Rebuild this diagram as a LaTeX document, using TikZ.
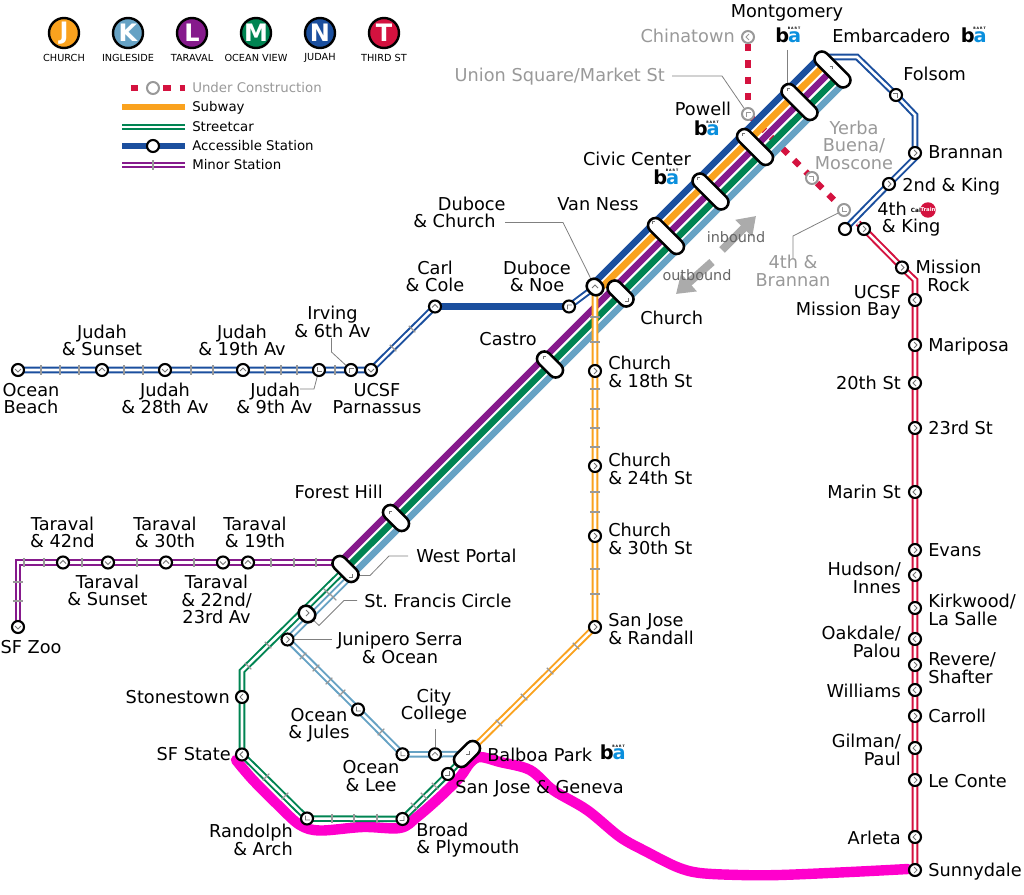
\documentclass[tikz,border=0pt]{standalone}
\usepackage{fontspec}
\setmainfont{DejaVu Sans}
\usetikzlibrary{arrows.meta}
\definecolor{cN}{HTML}{1B4F9E}
\definecolor{cJ}{HTML}{FAA21E}
\definecolor{cL}{HTML}{861A8C}
\definecolor{cM}{HTML}{008452}
\definecolor{cK}{HTML}{66A2C4}
\definecolor{cT}{HTML}{D4123F}
\definecolor{cMag}{HTML}{FF00CC}
\definecolor{cGr}{HTML}{999999}
\definecolor{cBart}{HTML}{0A8FDD}
\pgfdeclarelayer{lines}
\pgfsetlayers{lines,main}
\tikzset{
 stn/.style={circle,draw=black,fill=white,line width=1.6pt,inner sep=0pt,minimum size=9pt},
 gstn/.style={circle,draw=cGr,fill=white,line width=1.5pt,inner sep=0pt,minimum size=9pt},
 capsule/.style={rectangle,draw=black,fill=white,line width=1.9pt,inner sep=0pt,minimum height=11pt,rounded corners=5.4pt},
 chev/.style={draw=black!55,line width=.55pt},
 gchev/.style={draw=cGr,line width=.6pt},
 tickm/.style={draw=black!40,line width=.85pt},
 stripe/.style={line width=5pt,line cap=butt},
 dbl/.style={draw=#1,double=white,line width=1.5pt,double distance=1.9pt,line join=miter},
 leader/.style={draw=black!50,line width=.6pt},
 lab/.style={font=\fontsize{13.3}{13.1}\selectfont,inner sep=0pt,text height=11pt,text depth=2pt},
 mlab/.style={font=\fontsize{13.3}{13.1}\selectfont,inner sep=0pt},
 badge/.style={circle,draw=black,line width=1.8pt,inner sep=0pt,minimum size=22.5pt,text=white,font=\fontsize{18}{18}\bfseries\selectfont},
 captext/.style={font=\fontsize{7.3}{8}\selectfont,inner sep=0pt,text=black},
 leglab/.style={font=\fontsize{10}{11}\selectfont,inner sep=0pt,anchor=west,text height=9pt,text depth=1.5pt},
 dirlab/.style={font=\fontsize{10.8}{11}\selectfont,inner sep=0pt,text=black!60},
 ucline/.style={draw=cT,line width=4.6pt,dash pattern=on 5.6pt off 6.6pt},
 dirar/.style={draw=black!33,line width=6pt,-{Triangle[length=13pt,width=17pt]}},
 logo/.style={inner sep=0pt,anchor=south west,font=\fontsize{14.5}{15}\bfseries\selectfont},
}
\newcommand\stnode[4]{\node[stn](#1) at (#2,#3) {};\draw[chev,shift={(#2,#3)},rotate=#4] (-1,-3)--(2,0)--(-1,3);}
\newcommand\gstnode[4]{\node[gstn](#1) at (#2,#3) {};\draw[gchev,shift={(#2,#3)},rotate=#4] (-1,-3)--(2,0)--(-1,3);}
\newcommand\capnode[5]{\node[capsule,rotate=#4,minimum width=#5pt](#1) at (#2,#3) {};}
\newcommand\tk[3]{\draw[tickm,shift={(#1,#2)},rotate=#3] (0,-4.6)--(0,4.6);}
\newcommand\bartlogo[3]{%
 \node[logo](#1b) at (#2-12.5,#3+7.5) {b};
 \node[logo,text=cBart](#1a) at (#2+.3,#3+7.5) {a};
 \node[inner sep=0pt,font=\fontsize{2.4}{2.6}\bfseries\selectfont](#1t) at (#2+6.5,#3-6.8) {B\hspace{.7pt}A\hspace{.7pt}R\hspace{.7pt}T};}
\begin{document}
\begin{tikzpicture}[x=.75pt,y=-.75pt]
\useasboundingbox (0,0) rectangle (1024,895);
% ---- route badges
\node[badge,fill=cJ](bJ) at (64,33) {J};
\node[badge,fill=cK](bK) at (128,33) {K};
\node[badge,fill=cL](bL) at (192,33) {L};
\node[badge,fill=cM](bM) at (256,33) {M};
\node[badge,fill=cN](bN) at (320,33) {N};
\node[badge,fill=cT](bT) at (384,33) {T};
\node[captext](cJ1) at (64,58) {CHURCH};
\node[captext](cK1) at (128,58) {INGLESIDE};
\node[captext](cL1) at (192,58) {TARAVAL};
\node[captext](cM1) at (256,58) {OCEAN VIEW};
\node[captext](cN1) at (320,58) {JUDAH};
\node[captext](cT1) at (384,58) {THIRD ST};
% ---- legend
\coordinate (l1a) at (122,88); \coordinate (l1b) at (185,88);
\coordinate (l2a) at (122,107); \coordinate (l2b) at (185,107);
\coordinate (l3a) at (122,127); \coordinate (l3b) at (185,127);
\coordinate (l4a) at (122,146); \coordinate (l4b) at (185,146);
\coordinate (l5a) at (122,165); \coordinate (l5b) at (185,165);
\node[gstn](lgU) at (153,88) {};
\node[stn](lgA) at (153,146) {};
\node[leglab,text=cGr](t1) at (192,88) {Under Construction};
\node[leglab](t2) at (192,107) {Subway};
\node[leglab](t3) at (192,127) {Streetcar};
\node[leglab](t4) at (192,146) {Accessible Station};
\node[leglab](t5) at (192,165) {Minor Station};
% ---- stations: N
\stnode{ob}{18}{370}{270}
\stnode{js}{102}{370}{90}
\stnode{j28}{165}{370}{270}
\stnode{j19}{243}{370}{90}
\stnode{j9}{319}{370}{225}
\stnode{irv}{351}{370}{135}
\stnode{ucsfp}{371}{370}{270}
\stnode{carl}{435}{306.5}{90}
\stnode{noe}{569}{306.5}{135}
\stnode{fol}{896}{95}{45}
\stnode{bran}{915}{153}{0}
\stnode{snd}{889}{184}{0}
\node[stn](ke) at (845,229) {};
% T
\stnode{kt}{864}{229}{0}
\stnode{mr}{902}{267.5}{0}
\stnode{mb}{915}{300}{180}
\stnode{mar}{915}{345}{0}
\stnode{st20}{915}{383}{180}
\stnode{st23}{915}{428}{0}
\stnode{mrn}{915}{492}{180}
\stnode{eva}{915}{550}{0}
\stnode{hud}{915}{575}{180}
\stnode{kir}{915}{608}{0}
\stnode{oak}{915}{639}{180}
\stnode{rev}{915}{665}{0}
\stnode{wil}{915}{690}{180}
\stnode{car}{915}{716}{0}
\stnode{gil}{915}{748}{180}
\stnode{lec}{915}{780}{0}
\stnode{arl}{915}{837}{180}
\stnode{sun}{915}{870}{0}
% J
\stnode{c18}{595}{371}{0}
\stnode{c24}{595}{466}{0}
\stnode{c30}{595}{536}{0}
\stnode{sjr}{595}{627}{0}
% L
\stnode{t42}{63}{562.5}{90}
\stnode{tsu}{108}{562.5}{270}
\stnode{t30}{166}{562.5}{90}
\stnode{t22}{223}{562.5}{270}
\stnode{t19}{248}{562.5}{90}
\stnode{zoo}{18}{627}{270}
% K, M
\stnode{jun}{287.5}{639.5}{0}
\stnode{jul}{358}{709.5}{225}
\stnode{lee}{402.5}{754.3}{225}
\stnode{cc}{435}{754.3}{90}
\stnode{sto}{242}{697}{180}
\stnode{sfs}{242}{754.5}{180}
\stnode{ran}{307}{818.5}{225}
\stnode{bro}{402.5}{819}{315}
\stnode{sjg}{448}{774}{315}
% grey stations
\gstnode{chi}{748}{37}{180}
\gstnode{uni}{748}{114}{135}
\gstnode{ybm}{812}{178}{45}
\gstnode{fb}{844}{210}{225}
% capsules
\capnode{emb}{832.5}{69.5}{-45}{33.5}
\capnode{mon}{799.5}{102}{-45}{33.5}
\capnode{pow}{755}{147}{-45}{33.5}
\capnode{civ}{710.5}{191.5}{-45}{33.5}
\capnode{van}{666}{236}{-45}{33.5}
\capnode{dch}{595}{287}{-45}{13}
\capnode{chu}{620.5}{293.5}{-45}{23}
\capnode{cas}{550}{364.5}{-45}{23}
\capnode{for}{396}{518}{-45}{23}
\capnode{wpo}{345.5}{569}{-45}{23}
\capnode{fra}{307}{614}{-45}{13}
\capnode{bal}{467}{754}{45}{23}
\draw[chev] (829.5,66.5)--(832.5,66.5)--(832.5,69.5);
\draw[chev] (787,91)--(787,88)--(790,88);
\draw[chev] (742,136)--(742,133)--(745,133);
\draw[chev] (697,180)--(697,177)--(700,177);
\draw[chev] (652,224)--(652,221)--(655,221);
\draw[chev] (592,288)--(595,285)--(598,288);
\draw[chev] (628,298)--(628,301)--(625,301);
\draw[chev] (543,359)--(543,356)--(546,356);
\draw[chev] (389,514)--(389,511)--(392,511);
\draw[chev] (352,574)--(352,577)--(349,577);
\draw[chev] (306,610)--(309,613)--(306,616);
\draw[chev] (469,751)--(469,754)--(466,754);
% labels
\node[lab](lMont) at (787,12) {Montgomery};
\node[lab,anchor=east,text=cGr](lChi) at (735,37) {Chinatown};
\node[lab,anchor=west](lEmb) at (832,37) {Embarcadero};
\node[lab,anchor=east,text=cGr](lUni) at (665,76) {Union Square/Market St};
\node[lab,anchor=west](lFol) at (903,75) {Folsom};
\node[lab](lPow) at (703,110) {Powell};
\node[mlab,align=center,text=cGr](lYB) at (854,145) {Yerba\\Buena/\\Moscone};
\node[lab,anchor=west](lBran) at (928,153) {Brannan};
\node[lab,anchor=west](l2nd) at (902,185) {2nd \& King};
\node[mlab,align=left,anchor=west](l4k) at (877,219) {4th\\\hspace{3.5pt}\& King};
\node[mlab,align=center,text=cGr](l4br) at (793,271) {4th \&\\Brannan};
\node[mlab,align=center](lMR) at (948.5,276) {Mission\\Rock};
\node[mlab,align=right,anchor=east](lMB) at (901,302) {UCSF\\Mission Bay};
\node[lab,anchor=west](lMar) at (928,345) {Mariposa};
\node[lab,anchor=east](l20) at (901,383) {20th St};
\node[lab,anchor=west](l23) at (928,428) {23rd St};
\node[lab,anchor=east](lMrn) at (901,492) {Marin St};
\node[lab,anchor=west](lEv) at (928,550) {Evans};
\node[mlab,align=right,anchor=east](lHud) at (901,578) {Hudson/\\Innes};
\node[mlab,align=left,anchor=west](lKir) at (928,610) {Kirkwood/\\La Salle};
\node[mlab,align=right,anchor=east](lOak) at (901,642) {Oakdale/\\Palou};
\node[mlab,align=left,anchor=west](lRev) at (928,668) {Revere/\\Shafter};
\node[lab,anchor=east](lWil) at (901,691) {Williams};
\node[lab,anchor=west](lCarr) at (928,716) {Carroll};
\node[mlab,align=right,anchor=east](lGil) at (901,750) {Gilman/\\Paul};
\node[lab,anchor=west](lLec) at (928,781) {Le Conte};
\node[lab,anchor=east](lArl) at (901,838) {Arleta};
\node[lab,anchor=west](lSun) at (928,870) {Sunnydale};
\node[lab,anchor=west](lBal) at (487,755) {Balboa Park};
\node[lab,anchor=west](lSJG) at (455,787) {San Jose \& Geneva};
\node[mlab,align=left,anchor=west](lBro) at (416,840) {Broad\\\& Plymouth};
\node[mlab,align=right,anchor=east](lRan) at (293,840) {Randolph\\\& Arch};
\node[mlab,align=center](lLee) at (371,776) {Ocean\\\& Lee};
\node[mlab,align=center](lCC) at (434,706) {City\\College};
\node[mlab,align=center](lJul) at (319,725) {Ocean\\\& Jules};
\node[lab,anchor=east](lSto) at (230,697) {Stonestown};
\node[lab,anchor=east](lSFS) at (231,754) {SF State};
\node[mlab,align=center](lJun) at (400,648) {Junipero Serra\\\& Ocean};
\node[lab,anchor=west](lFra) at (364,601) {St.\ Francis Circle};
\node[lab,anchor=west](lWP) at (416,556) {West Portal};
\node[lab,anchor=east](lFor) at (383,492) {Forest Hill};
\node[lab](lCas) at (508,339) {Castro};
\node[lab,anchor=west](lChu) at (640,318) {Church};
\node[mlab,align=left,anchor=west](l18) at (608,372) {Church\\\& 18th St};
\node[mlab,align=left,anchor=west](l24) at (608,469) {Church\\\& 24th St};
\node[mlab,align=left,anchor=west](l30) at (608,539) {Church\\\& 30th St};
\node[mlab,align=left,anchor=west](lSJR) at (608,629) {San Jose\\\& Randall};
\node[lab](lVN) at (598,204) {Van Ness};
\node[mlab,align=left,anchor=west](lDC) at (413,212.5) {\hspace{18.5pt}Duboce\\\& Church};
\node[mlab,align=center](lDN) at (537,276.5) {Duboce\\\& Noe};
\node[mlab,align=center](lCarl) at (435,276.5) {Carl\\\& Cole};
\node[lab](lCiv) at (637,160) {Civic Center};
\node[mlab,align=center](lIrv) at (332.5,322) {Irving\\\& 6th Av};
\node[mlab,align=center](lJS) at (102,340.5) {Judah\\\& Sunset};
\node[mlab,align=center](lJ19) at (242,340.5) {Judah\\\& 19th Av};
\node[mlab,align=center](lJ28) at (165,398.5) {Judah\\\& 28th Av};
\node[mlab,align=left,anchor=west](lJ9) at (236,398.5) {\hspace{10.5pt}Judah\\\& 9th Av};
\node[mlab,align=center](lUP) at (377,398.5) {UCSF\\Parnassus};
\node[mlab,align=center](lOB) at (31,398.5) {Ocean\\Beach};
\node[mlab,align=center](lT42) at (62.5,532.5) {Taraval\\\& 42nd};
\node[mlab,align=center](lT30) at (165,532.5) {Taraval\\\& 30th};
\node[mlab,align=center](lT19) at (255,532.5) {Taraval\\\& 19th};
\node[mlab,align=center](lTS) at (107.5,590.5) {Taraval\\\& Sunset};
\node[mlab,align=center](lT22) at (216.5,599.5) {Taraval\\\& 22nd/\\23rd Av};
\node[lab](lZoo) at (31,647) {SF Zoo};
\node[dirlab](lin) at (736,237) {inbound};
\node[dirlab](lout) at (697,275) {outbound};
% logos
\bartlogo{bMon}{787.5}{35.5}
\bartlogo{bEmb}{973}{35.5}
\bartlogo{bPow}{706}{129}
\bartlogo{bCiv}{665.5}{177.5}
\bartlogo{bBal}{612}{753}
\node[inner sep=0pt,font=\fontsize{4.3}{5}\bfseries\selectfont](calt) at (916,210) {Cal};
\node[circle,fill=cT,inner sep=0pt,minimum size=10pt,text=white,font=\fontsize{4}{5}\bfseries\selectfont](train) at (928,210) {Train};
% coordinates of the trunk and of bends
\coordinate (Na) at (595,282); \coordinate (Nb) at (819.5,57.5);
\coordinate (Ja) at (601,288); \coordinate (Jb) at (826,63.5);
\coordinate (La) at (337,565); \coordinate (Lb) at (832,70);
\coordinate (Ma) at (345,569.5); \coordinate (Mb) at (838.5,76.5);
\coordinate (Ka) at (356,571); \coordinate (Kb) at (845,82);
\coordinate (n1) at (826,57); \coordinate (n2) at (857,57); \coordinate (n3) at (915,115); \coordinate (n4) at (915,158);
\coordinate (t0) at (858,223); \coordinate (t1c) at (915,280);
\coordinate (lzc) at (18,562.5); \coordinate (lw) at (340,562.5);
\coordinate (mb1) at (242,671);
\coordinate (ld1) at (505,222.5); \coordinate (ld2) at (563,222.5);
\coordinate (lu1) at (672,76); \coordinate (lu2) at (722,76);
\coordinate (lm1) at (787,50);\coordinate (lm2) at (787,85);
\coordinate (li1) at (331.5,338);\coordinate (li2) at (331.5,352);
\coordinate (l91) at (300,389);\coordinate (l92) at (314,389);
\coordinate (lw1) at (408,556);\coordinate (lw2) at (389,556);\coordinate (lw3) at (370,575.5);\coordinate (lw4) at (356,575.5);
\coordinate (lf1) at (357,600.5);\coordinate (lf2) at (344,600.5);\coordinate (lf3) at (319,625.5);
\coordinate (lj1) at (331.5,639.5);
\coordinate (lc1) at (435,729);
\coordinate (lb1) at (793,258);\coordinate (lb2) at (793,236);
\coordinate (ia) at (722,250);\coordinate (ib) at (756,216);
\coordinate (oa) at (712,262);\coordinate (ob2) at (676,294);
\begin{pgfonlayer}{lines}
% magenta stroke
\draw[cMag,line width=7.8pt,line cap=round,line join=round] plot[smooth,tension=.55] coordinates {(236,760)(253,780)(280,807)(300,825)(320,830.5)(363,827)(400,828)(417,817)(440,797)(460,777)(470,763)(480,757)(500,762)(530,770)(553,790)(587,810)(620,837)(647,852)(677,867)(700,873)(740,875)(780,875)(850,872)(908,869)};
% under construction
\draw[ucline] (chi)--(uni.center);
\draw[ucline] (uni.center)--(fb);
% trunk stripes
\draw[stripe,cN] (Na)--(Nb);
\draw[stripe,cJ] (Ja)--(Jb);
\draw[stripe,cL] (La)--(Lb);
\draw[stripe,cM] (Ma)--(Mb);
\draw[stripe,cK] (Ka)--(Kb);
% thick N
\draw[stripe,cN] (carl.center)--(noe.center);
% thin lines
\draw[dbl=cN] (ob.center)--(js.center)--(j28.center)--(j19.center)--(j9.center)--(irv.center)--(ucsfp.center)--(carl.center);
\draw[dbl=cN] (noe.center)--(dch.center);
\draw[dbl=cN] (n1)--(n2)--(fol.center)--(n3)--(bran.center)--(n4)--(snd.center)--(ke.center);
\draw[dbl=cT] (t0)--(kt.center)--(mr.center)--(t1c)--(mb.center)--(sun.center);
\draw[dbl=cJ] (dch.center)--(c18.center)--(c24.center)--(c30.center)--(sjr.center)--(bal.center);
\draw[dbl=cL] (lw)--(t19.center)--(t22.center)--(t30.center)--(tsu.center)--(t42.center)--(lzc)--(zoo.center);
\draw[dbl=cM] (Ma)--(mb1)--(sto.center)--(sfs.center)--(ran.center)--(bro.center)--(sjg.center)--(bal.center);
\draw[dbl=cK] (Ka)--(jun.center)--(jul.center)--(lee.center)--(cc.center)--(bal.center);
% minor stations
\foreach \x in {41,60,79,124,143,191,213,265,281,297,335} {\tk{\x}{370}{0}}
\tk{393}{348}{45}
\tk{412}{329}{45}
\foreach \x in {24,44,82,137,194,271,294,316} {\tk{\x}{562.5}{0}}
\tk{18}{582}{90}
\tk{18}{601}{90}
\foreach \y in {317,342,389,409,428,447,492,512,569,594} {\tk{595}{\y}{90}}
\tk{576}{646}{45}\tk{550}{671}{45}\tk{524}{697}{45}\tk{499}{723}{45}
\tk{268}{645}{45}\tk{248}{666}{45}
\tk{266}{777}{-45}\tk{285}{796}{-45}
\tk{332}{818.5}{0}\tk{354}{818.5}{0}\tk{377}{818.5}{0}
\tk{414}{806}{45}\tk{424}{796}{45}\tk{435}{786}{45}
\tk{303}{656}{-45}\tk{316}{668}{-45}\tk{329}{681}{-45}\tk{342}{693}{-45}\tk{381}{732}{-45}
\tk{327}{592}{45}\tk{333}{597}{45}
% legend lines
\draw[ucline,dash phase=5.6pt] (l1a)--(l1b);
\draw[stripe,cJ] (l2a)--(l2b);
\draw[dbl=cM] (l3a)--(l3b);
\draw[stripe,cN] (l4a)--(l4b);
\draw[dbl=cL] (l5a)--(l5b);
\tk{153}{165}{0}
% leader lines
\draw[leader] (lu1)--(lu2)--(uni);
\draw[leader] (lm1)--(lm2);
\draw[leader] (ld1)--(ld2)--(dch);
\draw[leader] (li1)--(li2)--(irv);
\draw[leader] (l91)--(l92)--(j9);
\draw[leader] (lw1)--(lw2)--(lw3)--(lw4);
\draw[leader] (lf1)--(lf2)--(lf3)--(fra);
\draw[leader] (jun)--(lj1);
\draw[leader] (lc1)--(cc);
\draw[leader] (lb1)--(lb2)--(fb);
% direction arrows
\draw[dirar] (ia)--(ib);
\draw[dirar] (oa)--(ob2);
\end{pgfonlayer}
\end{tikzpicture}
\end{document}
